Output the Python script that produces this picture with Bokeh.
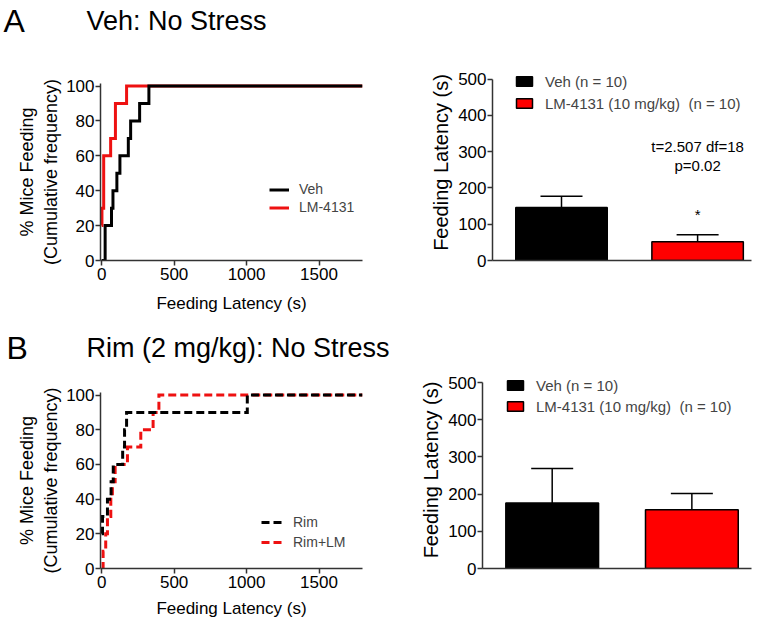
from bokeh.plotting import figure
from bokeh.layouts import row, column
from bokeh.models import (Legend, LegendItem, Whisker, ColumnDataSource,
                          TeeHead, FixedTicker, Range1d)
from bokeh.core.properties import value
from bokeh.embed import file_html
from bokeh.resources import INLINE

FONT = "Liberation Sans"

# ---------------- data ----------------
# Panel A cumulative frequency (latency s, % mice feeding)
a_veh_t = [0, 24, 68, 78, 105, 126, 184, 200, 262, 326, 1800]
a_veh_pct = [0, 20, 30, 40, 50, 60, 70, 80, 90, 100, 100]
a_lm_t = [0, 2, 14, 62, 95, 172, 1800]
a_lm_pct = [20, 30, 60, 70, 90, 100, 100]

# Panel B cumulative frequency
b_rim_t = [0, 6, 40, 65, 80, 145, 158, 172, 1005, 1800]
b_rim_pct = [20, 30, 40, 50, 60, 70, 80, 90, 100, 100]
b_rimlm_t = [0, 10, 28, 40, 63, 74, 93, 178, 270, 355, 395, 1800]
b_rimlm_pct = [0, 10, 20, 30, 40, 50, 60, 70, 80, 90, 100, 100]

# Bar charts
bar_groups = ["Veh (n = 10)", "LM-4131 (10 mg/kg)  (n = 10)"]
bar_colors = ["black", "#ff0000"]
a_bar_mean = [146, 52]
a_bar_sem = [31, 19]
b_bar_mean = [176, 158]
b_bar_sem = [93, 44]

cum_x_ticks = [0, 500, 1000, 1500]
cum_y_ticks = [0, 20, 40, 60, 80, 100]
bar_y_ticks = [0, 100, 200, 300, 400, 500]

a_stats = ["t=2.507 df=18", "p=0.02"]
a_stats_y = [314, 262]
a_star_y = 128

AX = "#333333"
W_LEFT, W_RIGHT = 415, 337


def style_axis(ax, label_size="18px", tick_size="17px"):
    ax.axis_line_color = AX
    ax.axis_line_width = 1.5
    ax.major_tick_line_color = AX
    ax.major_tick_line_width = 1.5
    ax.major_tick_out = 5
    ax.major_tick_in = 0
    ax.minor_tick_line_color = None
    ax.major_label_text_font = FONT
    ax.major_label_text_font_size = tick_size
    ax.major_label_text_color = "black"
    ax.major_label_standoff = 1
    ax.axis_label_text_font = FONT
    ax.axis_label_text_font_size = label_size
    ax.axis_label_text_font_style = "normal"
    ax.axis_label_text_color = "black"


def title_fig(h, letter, title, letter_x, title_x, mid_y):
    p = figure(width=W_LEFT + W_RIGHT, height=h, x_range=Range1d(0, W_LEFT + W_RIGHT),
               y_range=Range1d(0, h), x_axis_type=None, y_axis_type=None,
               output_backend="svg", toolbar_location=None, frame_align=False,
               min_border_left=0, min_border_right=0, min_border_top=0, min_border_bottom=0)
    p.xgrid.visible = False
    p.ygrid.visible = False
    p.outline_line_color = None
    p.text(x=[letter_x], y=[mid_y], text=[letter], text_font=value(FONT),
           text_font_size="32px", text_baseline="middle", text_color="black")
    p.text(x=[title_x], y=[mid_y], text=[title], text_font=value(FONT),
           text_font_size="27px", text_baseline="middle", text_color="black")
    return p


def cum_fig(h, bt, bb, series, leg_loc, leg_h, glyph_w, dash, xlab_standoff):
    p = figure(width=W_LEFT, height=h, x_range=Range1d(-8, 1800), y_range=Range1d(0, 101.5),
               output_backend="svg", toolbar_location=None, frame_align=False,
               min_border_left=100, min_border_right=53, min_border_top=bt, min_border_bottom=bb)
    p.xgrid.visible = False
    p.ygrid.visible = False
    p.outline_line_color = None
    rs = {}
    for name, t, pct, col in series:
        rs[name] = p.step(t, pct, mode="after", line_width=3, line_color=col,
                          line_dash=dash, line_join="miter")
    items = [LegendItem(label=name, renderers=[rs[name]]) for name, _, _, _ in reversed(series)]
    p.xaxis.ticker = FixedTicker(ticks=cum_x_ticks)
    p.yaxis.ticker = FixedTicker(ticks=cum_y_ticks)
    p.xaxis.axis_label = "Feeding Latency (s)"
    p.yaxis.axis_label = "% Mice Feeding\n(Cumulative frequency)"
    style_axis(p.xaxis[0], label_size="17px")
    style_axis(p.yaxis[0])
    p.xaxis.major_label_standoff = 2
    p.xaxis.axis_label_standoff = xlab_standoff
    p.yaxis.axis_label_standoff = 2
    leg = Legend(items=items, location=leg_loc, glyph_width=glyph_w, glyph_height=leg_h,
                 label_height=leg_h, spacing=2, padding=0, margin=0, label_standoff=10,
                 background_fill_alpha=0, border_line_color=None,
                 label_text_font=FONT, label_text_font_size="14px")
    p.add_layout(leg)
    return p


def bar_fig(h, bl, bt, bb, xr, ytop, bw, mean, sem, leg_loc, leg_spacing):
    xs = list(range(len(bar_groups)))
    src = ColumnDataSource(dict(x=xs, top=mean, upper=[m + s for m, s in zip(mean, sem)],
                                label=bar_groups, color=bar_colors))
    p = figure(width=W_RIGHT, height=h, x_range=Range1d(*xr), y_range=Range1d(0, ytop),
               output_backend="svg", toolbar_location=None, frame_align=False,
               min_border_left=bl, min_border_right=1, min_border_top=bt, min_border_bottom=bb)
    p.xgrid.visible = False
    p.ygrid.visible = False
    p.outline_line_color = None
    p.vbar(x="x", top="top", width=bw, fill_color="color", line_color="black",
           line_width=1.5, source=src, legend_field="label")
    p.add_layout(Whisker(base="x", lower="top", upper="upper", source=src,
                         line_color="black", line_width=1.5,
                         upper_head=TeeHead(size=42, line_color="black", line_width=1.5),
                         lower_head=None))
    p.xaxis.ticker = FixedTicker(ticks=[])
    style_axis(p.xaxis[0])
    p.xaxis.major_tick_line_color = None
    p.yaxis.ticker = FixedTicker(ticks=bar_y_ticks)
    p.yaxis.bounds = (bar_y_ticks[0], bar_y_ticks[-1])
    p.yaxis.axis_label = "Feeding Latency (s)"
    style_axis(p.yaxis[0], label_size="20px")
    p.yaxis.axis_label_standoff = 3
    leg = p.legend[0]
    leg.location = leg_loc
    leg.glyph_width = 20
    leg.glyph_height = 12
    leg.label_height = 18
    leg.spacing = leg_spacing
    leg.padding = 0
    leg.margin = 0
    leg.label_standoff = 11
    leg.background_fill_alpha = 0
    leg.border_line_color = None
    leg.label_text_font = FONT
    leg.label_text_font_size = "15px"
    return p, xs


tA = title_fig(45, "A", "Veh: No Stress", 3, 86, 25)
a1 = cum_fig(275, 38, 60,
             [("LM-4131", a_lm_t, a_lm_pct, "#ee1111"), ("Veh", a_veh_t, a_veh_pct, "black")],
             (169, 45), 15, 20, "solid", 11)
a2, xs = bar_fig(275, 77, 19, 60, (-0.507, 1.396), 540, 0.672, a_bar_mean, a_bar_sem, (22, 148), 4)
for txt, yy in zip(a_stats, a_stats_y):
    a2.text(x=[xs[1]], y=[yy], text=[txt], text_align="center", text_baseline="middle",
            text_font=value(FONT), text_font_size="15px", text_color="black")
a2.text(x=[xs[1]], y=[a_star_y], text=["*"], text_align="center", text_baseline="middle",
        text_font=value(FONT), text_font_size="15px", text_color="black")

tB = title_fig(45, "B", "Rim (2 mg/kg): No Stress", 6, 86, 18)
b1 = cum_fig(258, 27, 55,
             [("Rim+LM", b_rimlm_t, b_rimlm_pct, "#ee1111"), ("Rim", b_rim_t, b_rim_pct, "black")],
             (161, 17), 18, 22, "8 4", 8)
b2, _ = bar_fig(258, 67, 6, 55, (-0.499, 1.427), 530, 0.664, b_bar_mean, b_bar_sem, (23, 153), 3)

layout = column(tA, row(a1, a2), tB, row(b1, b2))

open("out.html", "w").write(file_html(layout, INLINE))
